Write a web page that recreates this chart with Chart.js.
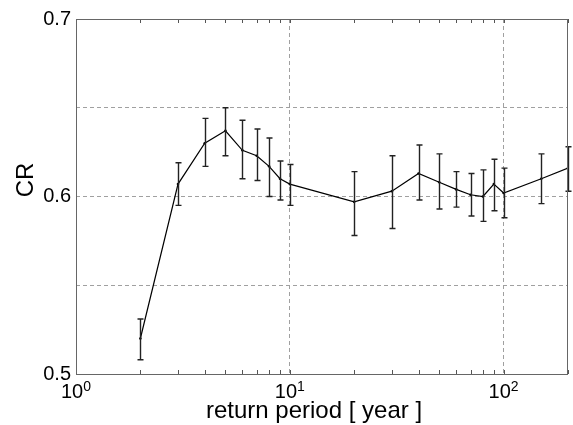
<!DOCTYPE html>
<html><head><meta charset="utf-8">
<script src="https://cdn.jsdelivr.net/npm/chart.js@4/dist/chart.umd.min.js"></script>
<style>html,body{margin:0;padding:0;background:#fff}</style>
</head><body>
<canvas id="c" width="573" height="425"></canvas>
<script>
const returnPeriods = [2, 3, 4, 5, 6, 7, 8, 9, 10, 20, 30, 40, 50, 60, 70, 80, 90, 100, 150, 200];
const crValues = [0.520, 0.607, 0.630, 0.637, 0.626, 0.623, 0.617, 0.610, 0.607, 0.597, 0.603, 0.613, 0.608, 0.604, 0.601, 0.600, 0.607, 0.602, 0.610, 0.616];
const crUpper  = [0.531, 0.619, 0.644, 0.650, 0.643, 0.638, 0.633, 0.620, 0.618, 0.614, 0.623, 0.629, 0.624, 0.614, 0.613, 0.615, 0.621, 0.616, 0.624, 0.628];
const crLower  = [0.508, 0.595, 0.617, 0.623, 0.610, 0.609, 0.600, 0.598, 0.595, 0.578, 0.582, 0.598, 0.593, 0.594, 0.589, 0.586, 0.592, 0.588, 0.596, 0.603];
const yTickLabels = ['0.5', '0.6', '0.7'];
const xTickValues = [1, 10, 100];
const xTickBase = ['10', '10', '10'];
const xTickExponents = ['0', '1', '2'];
const xTitle = 'return period [ year ]';
const yTitle = 'CR';

const FONT = "'Liberation Sans', Arial, Helvetica, sans-serif";

const decor = {
  id: 'decor',
  afterDatasetsDraw(chart) {
    const ctx = chart.ctx, x = chart.scales.x, y = chart.scales.y;
    ctx.save();
    ctx.strokeStyle = '#222';
    ctx.lineWidth = 1.4;
    for (let i = 0; i < returnPeriods.length; i++) {
      const px = Math.round(x.getPixelForValue(returnPeriods[i])) + 0.5;
      const pt = y.getPixelForValue(crUpper[i]);
      const pb = y.getPixelForValue(crLower[i]);
      ctx.beginPath();
      ctx.moveTo(px, pt); ctx.lineTo(px, pb);
      ctx.moveTo(px - 3, pt); ctx.lineTo(px + 3, pt);
      ctx.moveTo(px - 3, pb); ctx.lineTo(px + 3, pb);
      ctx.stroke();
    }
    ctx.restore();
  },
  afterDraw(chart) {
    const ctx = chart.ctx, x = chart.scales.x, a = chart.chartArea;
    ctx.save();
    // minor ticks (inward, top and bottom)
    ctx.strokeStyle = '#555';
    ctx.lineWidth = 1;
    for (let d = 1; d <= 100; d *= 10) {
      for (let m = 1; m <= 9; m++) {
        const v = d * m;
        if (v < x.min || v > x.max) continue;
        const px = Math.round(x.getPixelForValue(v)) + 0.5;
        ctx.beginPath();
        ctx.moveTo(px, a.bottom); ctx.lineTo(px, a.bottom - 4);
        ctx.moveTo(px, a.top); ctx.lineTo(px, a.top + 4);
        ctx.stroke();
      }
    }
    // box
    ctx.strokeStyle = '#666';
    ctx.strokeRect(Math.round(a.left) + 0.5, Math.round(a.top) + 0.5, Math.round(a.right - a.left) - 1, Math.round(a.bottom - a.top));
    // x tick labels with exponents
    ctx.fillStyle = '#000';
    ctx.textBaseline = 'alphabetic';
    ctx.textAlign = 'left';
    for (let i = 0; i < xTickValues.length; i++) {
      const px = x.getPixelForValue(xTickValues[i]);
      ctx.font = '20px ' + FONT;
      const wb = ctx.measureText(xTickBase[i]).width;
      ctx.font = '14px ' + FONT;
      const we = ctx.measureText(xTickExponents[i]).width;
      const start = px - (wb + we) / 2;
      ctx.font = '20px ' + FONT;
      ctx.fillText(xTickBase[i], start, 398);
      ctx.font = '14px ' + FONT;
      ctx.fillText(xTickExponents[i], start + wb, 391);
    }
    // axis titles
    ctx.font = '24px ' + FONT;
    ctx.textAlign = 'center';
    ctx.fillText(xTitle, 314, 418);
    ctx.translate(33, 180);
    ctx.rotate(-Math.PI / 2);
    ctx.fillText(yTitle, 0, 0);
    ctx.restore();
  }
};

new Chart(document.getElementById('c'), {
  type: 'line',
  data: {
    datasets: [{
      data: returnPeriods.map((v, i) => ({ x: v, y: crValues[i] })),
      borderColor: '#000',
      borderWidth: 1.2,
      pointRadius: 1.3,
      pointBackgroundColor: '#000',
      pointBorderWidth: 0,
      tension: 0,
      fill: false
    }]
  },
  options: {
    responsive: false,
    animation: false,
    layout: { padding: { top: 19, right: 5, left: 0, bottom: 0 } },
    plugins: { legend: { display: false }, tooltip: { enabled: false } },
    scales: {
      x: {
        type: 'logarithmic',
        min: 1, max: 200,
        afterFit(s) { s.height = 51; },
        grid: {
          drawTicks: false,
          lineWidth: 1,
          color: c => (c.tick && (c.tick.value === 10 || c.tick.value === 100)) ? '#a0a0a0' : 'rgba(0,0,0,0)'
        },
        border: { display: false, dash: [4, 3] },
        ticks: { autoSkip: false, callback: () => '', font: { size: 1 } },
        title: { display: false }
      },
      y: {
        min: 0.5, max: 0.7,
        afterFit(s) { s.width = 76; },
        grid: { drawTicks: false, color: '#a0a0a0', lineWidth: 1 },
        border: { display: false, dash: [4, 3] },
        ticks: {
          stepSize: 0.05,
          padding: 5,
          color: '#000',
          font: { family: FONT, size: 20 },
          callback: v => { const s = (Math.round(v * 100) / 100).toString(); return yTickLabels.includes(s) ? s : ''; }
        },
        title: { display: false }
      }
    }
  },
  plugins: [decor]
});
</script>
</body></html>
